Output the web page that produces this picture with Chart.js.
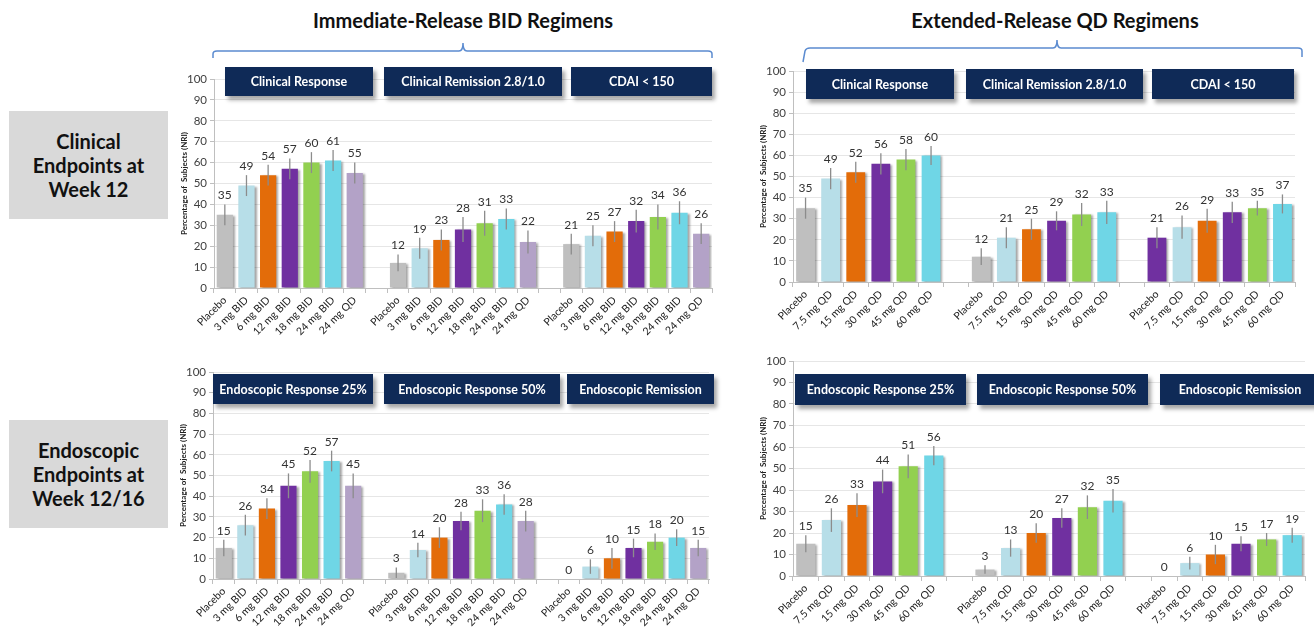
<!DOCTYPE html>
<html lang="en">
<head>
<meta charset="utf-8">
<title>Clinical and endoscopic endpoints by regimen</title>
<script src="https://cdn.jsdelivr.net/npm/chart.js"></script>
<style>
  body { margin: 0; width: 1314px; height: 629px; position: relative; background: #fff; overflow: hidden;
         font-family: Lato, "Open Sans", sans-serif; }
  .regimen { position: absolute; top: 8px; font-weight: bold; font-size: 20px; color: #111; text-align: center; white-space: nowrap; }
  .rowlabel { position: absolute; left: 9px; width: 159px; height: 108px; background: #d9d9d9; color: #111;
              display: flex; align-items: center; justify-content: center; text-align: center;
              font-weight: bold; font-size: 20px; line-height: 24px; }
  .endpoint { position: absolute; background: #0f2a57; color: #fff; font-weight: bold; font-size: 12.5px;
              display: flex; align-items: center; justify-content: center; white-space: nowrap;
              box-shadow: 3px 4px 4px rgba(0,0,0,0.35); z-index: 2; }
  canvas { position: absolute; }
</style>
</head>
<body>
  <div class="regimen" style="left:263px;width:400px;">Immediate-Release BID Regimens</div>
  <div class="regimen" style="left:855px;width:400px;">Extended-Release QD Regimens</div>
  <svg width="1314" height="70" style="position:absolute;left:0;top:0;">
    <path d="M213 58 L213 54 Q213 51 217 51 L459 51 Q463 51 463 43 Q463 51 467 51 L708 51 Q712 51 712 54 L712 58"
          fill="none" stroke="#5b8bd0" stroke-width="1.5"/>
    <path d="M803 62 L805 51 Q806 48 810 48 L1053 48 Q1057 48 1057 40 Q1057 48 1061 48 L1298 48 Q1302 48 1302 51 L1302 57"
          fill="none" stroke="#5b8bd0" stroke-width="1.5"/>
  </svg>
  <div class="rowlabel" style="top:111px;">Clinical<br>Endpoints at<br>Week 12</div>
  <div class="rowlabel" style="top:420px;">Endoscopic<br>Endpoints at<br>Week 12/16</div>

  <canvas id="clinicalIR"></canvas>
  <canvas id="clinicalER"></canvas>
  <canvas id="endoIR"></canvas>
  <canvas id="endoER"></canvas>

<script>
// dose groups on the category axis
const irDoses = ['Placebo', '3 mg BID', '6 mg BID', '12 mg BID', '18 mg BID', '24 mg BID', '24 mg QD'];
const erDoses = ['Placebo', '7.5 mg QD', '15 mg QD', '30 mg QD', '45 mg QD', '60 mg QD'];

// endpoint names shown in the navy header boxes
const clinicalEndpoints = ['Clinical Response', 'Clinical Remission 2.8/1.0', 'CDAI < 150'];
const endoEndpoints = ['Endoscopic Response 25%', 'Endoscopic Response 50%', 'Endoscopic Remission'];

// percentage of subjects (NRI), immediate-release BID regimens
const irClinicalResponse  = [35, 49, 54, 57, 60, 61, 55];
const irClinicalRemission = [12, 19, 23, 28, 31, 33, 22];
const irCdai              = [21, 25, 27, 32, 34, 36, 26];
const irEndoResponse25    = [15, 26, 34, 45, 52, 57, 45];
const irEndoResponse50    = [3, 14, 20, 28, 33, 36, 28];
const irEndoRemission     = [0, 6, 10, 15, 18, 20, 15];

// percentage of subjects (NRI), extended-release QD regimens
const erClinicalResponse  = [35, 49, 52, 56, 58, 60];
const erClinicalRemission = [12, 21, 25, 29, 32, 33];
const erCdai              = [21, 26, 29, 33, 35, 37];
const erEndoResponse25    = [15, 26, 33, 44, 51, 56];
const erEndoResponse50    = [3, 13, 20, 27, 32, 35];
const erEndoRemission     = [0, 6, 10, 15, 17, 19];

// error bar half-widths (percentage points)
const irClinicalResponseErr  = [5, 5, 5, 5, 5, 5, 5];
const irClinicalRemissionErr = [4, 5, 5, 6, 6, 5, 5.5];
const irCdaiErr              = [5, 5, 5, 5.5, 6, 5.5, 5];
const irEndoResponse25Err    = [4, 5, 5, 6, 5.5, 5, 6];
const irEndoResponse50Err    = [2.5, 3.5, 5, 4.5, 5.5, 5, 5];
const irEndoRemissionErr     = [0, 3.5, 5, 4.5, 4, 4, 4];
const erClinicalResponseErr  = [5, 5, 5, 5, 5, 4.5];
const erClinicalRemissionErr = [4, 5, 5, 4.5, 5.5, 5.5];
const erCdaiErr              = [5, 5.5, 5.7, 5, 3.5, 4.5];
const erEndoResponse25Err    = [4, 5.5, 5.5, 5.5, 5.5, 4.5];
const erEndoResponse50Err    = [2, 4, 4.5, 4.5, 5.5, 5.5];
const erEndoRemissionErr     = [0, 3, 4.5, 3.5, 3, 3.5];

// bar fills per dose
const irColors = ['#bfbfbf', '#b7dee8', '#e36c09', '#7030a0', '#92d050', '#6fd6e6', '#b3a2c7'];
const erColors = ['#bfbfbf', '#b7dee8', '#e36c09', '#7030a0', '#92d050', '#6fd6e6'];
const erCdaiColors = ['#7030a0', '#b7dee8', '#e36c09', '#7030a0', '#92d050', '#6fd6e6'];

const FONT = 'Lato, "Open Sans", sans-serif';
const Y_AXIS_W = 36;
const PAD_TOP = 10;
const PAD_RIGHT = 2;

// soft shadow on the bars
const barShadow = {
  id: 'barShadow',
  beforeDatasetsDraw(chart) {
    const c = chart.ctx;
    c.save();
    c.shadowColor = 'rgba(0,0,0,0.35)';
    c.shadowOffsetX = 2;
    c.shadowOffsetY = 1;
    c.shadowBlur = 2;
  },
  afterDatasetsDraw(chart) {
    chart.ctx.restore();
  }
};

// error whiskers and the value printed above each one
const errorBars = {
  id: 'errorBars',
  afterDatasetsDraw(chart) {
    const ctx = chart.ctx;
    const y = chart.scales.y;
    const ds = chart.data.datasets[0];
    const meta = chart.getDatasetMeta(0);
    ctx.save();
    meta.data.forEach((bar, i) => {
      const v = ds.data[i];
      if (v === null) return;
      const e = ds.errors[i] || 0;
      if (e > 0) {
        ctx.strokeStyle = '#8c8c8c';
        ctx.lineWidth = 1.3;
        ctx.beginPath();
        ctx.moveTo(bar.x, y.getPixelForValue(v - e));
        ctx.lineTo(bar.x, y.getPixelForValue(v + e));
        ctx.stroke();
      }
      ctx.fillStyle = '#333';
      ctx.font = '12px ' + FONT;
      ctx.textAlign = 'center';
      ctx.textBaseline = 'bottom';
      ctx.fillText(String(v), bar.x, y.getPixelForValue(v + e) - 3);
    });
    ctx.restore();
  }
};

function makePanel(canvasId, plot, xAxisH, doses, groups, colorSets, headers, boxes) {
  const labels = [], values = [], errors = [], colors = [];
  groups.forEach((g, gi) => {
    if (gi > 0) {
      labels.push('');
      values.push(null);
      errors.push(null);
      colors.push('rgba(0,0,0,0)');
    }
    doses.forEach((d, di) => {
      labels.push(d);
      values.push(g[0][di]);
      errors.push(g[1][di]);
      colors.push(colorSets[gi][di]);
    });
  });

  const cv = document.getElementById(canvasId);
  cv.width = Y_AXIS_W + (plot.right - plot.left) + PAD_RIGHT;
  cv.height = PAD_TOP + (plot.bottom - plot.top) + xAxisH;
  cv.style.left = (plot.left - Y_AXIS_W) + 'px';
  cv.style.top = (plot.top - PAD_TOP) + 'px';

  new Chart(cv, {
    type: 'bar',
    data: {
      labels: labels,
      datasets: [{
        data: values,
        errors: errors,
        backgroundColor: colors,
        borderWidth: 0,
        categoryPercentage: 1,
        barPercentage: 0.75
      }]
    },
    options: {
      responsive: false,
      animation: false,
      events: [],
      layout: { padding: { top: PAD_TOP, right: PAD_RIGHT, left: 0, bottom: 0 } },
      plugins: { legend: { display: false }, tooltip: { enabled: false } },
      scales: {
        x: {
          afterFit(s) { s.height = xAxisH; },
          grid: { display: true, drawOnChartArea: false, offset: true, tickLength: 5, color: '#bfbfbf' },
          border: { color: '#bfbfbf' },
          ticks: { autoSkip: false, minRotation: 45, maxRotation: 45, padding: 1,
                   color: '#1a1a1a', font: { size: 10.5, family: FONT } }
        },
        y: {
          min: 0, max: 100,
          afterFit(s) { s.width = Y_AXIS_W; },
          grid: { color: '#e6e6e6', tickLength: 4, tickColor: '#bfbfbf' },
          border: { color: '#bfbfbf' },
          ticks: { stepSize: 10, padding: 3, color: '#404040', font: { size: 11.5, family: FONT } },
          title: { display: true, text: 'Percentage of  Subjects (NRI)', color: '#222',
                   padding: { top: 2, bottom: 0 }, font: { size: 8, weight: 'bold', family: FONT } }
        }
      }
    },
    plugins: [barShadow, errorBars]
  });

  headers.forEach((t, i) => {
    const b = boxes[i];
    const d = document.createElement('div');
    d.className = 'endpoint';
    d.textContent = t;
    d.style.left = b[0] + 'px';
    d.style.top = b[1] + 'px';
    d.style.width = (b[2] - b[0]) + 'px';
    d.style.height = (b[3] - b[1]) + 'px';
    document.body.appendChild(d);
  });
}

makePanel('clinicalIR', { left: 214, right: 712, top: 79, bottom: 288 }, 58, irDoses,
  [[irClinicalResponse, irClinicalResponseErr], [irClinicalRemission, irClinicalRemissionErr], [irCdai, irCdaiErr]],
  [irColors, irColors, irColors], clinicalEndpoints,
  [[225, 67, 373, 96], [384, 67, 562, 96], [571, 67, 712, 96]]);

makePanel('clinicalER', { left: 793, right: 1295, top: 71, bottom: 282 }, 58, erDoses,
  [[erClinicalResponse, erClinicalResponseErr], [erClinicalRemission, erClinicalRemissionErr], [erCdai, erCdaiErr]],
  [erColors, erColors, erCdaiColors], clinicalEndpoints,
  [[806, 69, 954, 99], [966, 69, 1143, 99], [1152, 69, 1294, 99]]);

makePanel('endoIR', { left: 213, right: 709, top: 372, bottom: 579 }, 50, irDoses,
  [[irEndoResponse25, irEndoResponse25Err], [irEndoResponse50, irEndoResponse50Err], [irEndoRemission, irEndoRemissionErr]],
  [irColors, irColors, irColors], endoEndpoints,
  [[213, 374, 373, 404], [384, 374, 560, 404], [567, 374, 714, 404]]);

makePanel('endoER', { left: 793, right: 1305, top: 361, bottom: 576 }, 53, erDoses,
  [[erEndoResponse25, erEndoResponse25Err], [erEndoResponse50, erEndoResponse50Err], [erEndoRemission, erEndoRemissionErr]],
  [erColors, erColors, erColors], endoEndpoints,
  [[795, 374, 966, 405], [977, 374, 1148, 405], [1160, 374, 1320, 405]]);
</script>
</body>
</html>
